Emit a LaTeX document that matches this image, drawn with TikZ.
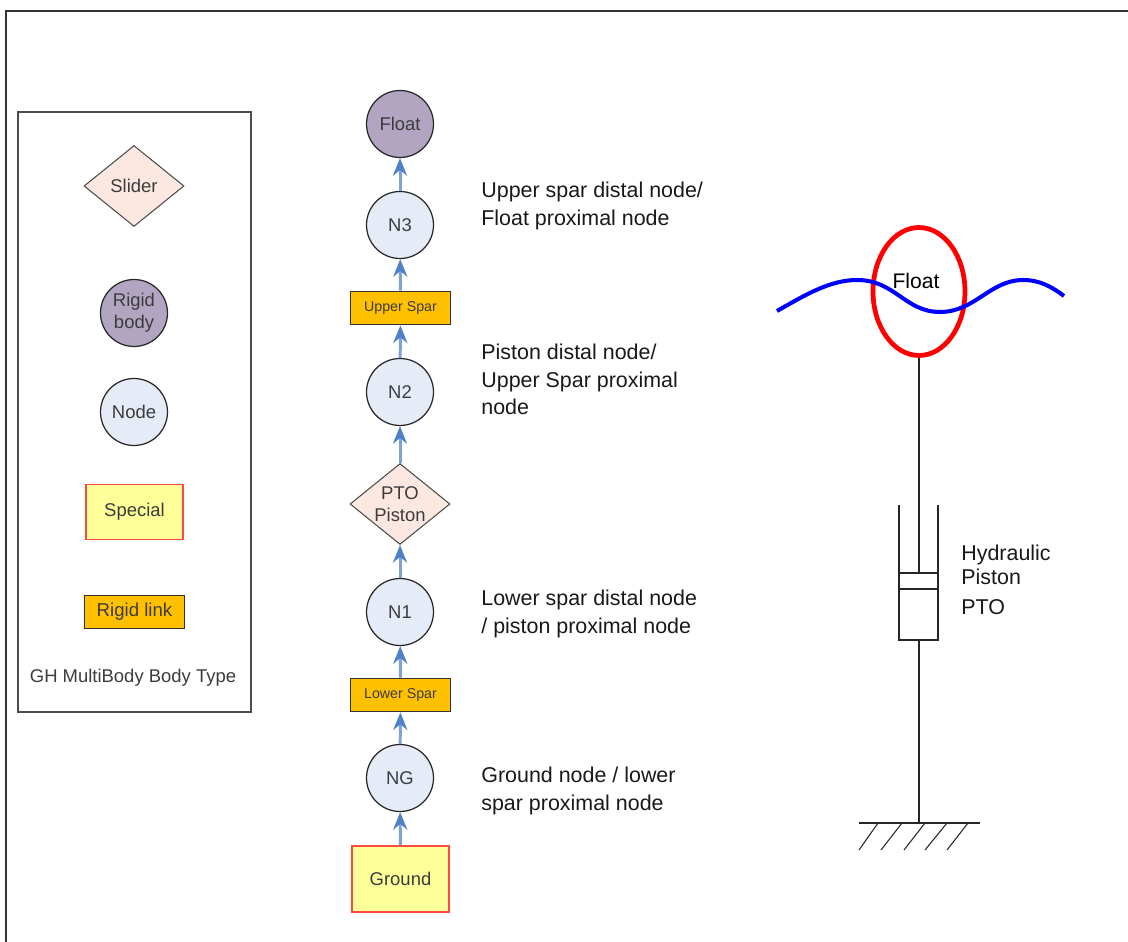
\documentclass[tikz,border=0pt]{standalone}
\usepackage{fontspec}
\setmainfont{Liberation Sans}
\usepackage{tikz}
\usetikzlibrary{arrows.meta, shapes.geometric}
\definecolor{nodeblue}{HTML}{E6ECF7}
\definecolor{bodypurple}{HTML}{B1A5C2}
\definecolor{sliderpink}{HTML}{FCE8E1}
\definecolor{specialyellow}{HTML}{FFFF99}
\definecolor{linkamber}{HTML}{FFC000}
\definecolor{specialred}{HTML}{FF4B3E}
\definecolor{linkblue}{HTML}{7BA3DA}
\definecolor{headblue}{HTML}{4F81C8}
\definecolor{labelgrey}{HTML}{3C3C3C}
\tikzset{
  bodytext/.style={font=\fontsize{10.5}{12.6}\selectfont, text=labelgrey, align=center, inner sep=0pt},
  nodecirc/.style={bodytext, draw=black!85, line width=0.7pt, circle, fill=nodeblue, minimum size=1.34cm},
  rigidcirc/.style={nodecirc, fill=bodypurple},
  sliderbox/.style={bodytext, draw=black!70, line width=0.6pt, diamond, fill=sliderpink, shape aspect=1.22, minimum width=2cm, minimum height=1.62cm},
  specialbox/.style={bodytext, draw=specialred, line width=1.1pt, rectangle, fill=specialyellow},
  sparbox/.style={bodytext, draw=black!80, line width=1pt, rectangle, fill=linkamber, minimum width=2cm, minimum height=0.66cm},
  note/.style={font=\fontsize{12.2}{15.6}\selectfont, text=black!90, align=left, inner sep=0pt, anchor=north west},
  link/.style={-{Stealth[length=10pt,width=8pt,color=headblue]}, line width=1.7pt, draw=linkblue},
  mech/.style={line width=0.6pt, draw=black!85}
}
\begin{document}
\begin{tikzpicture}[x=0.02cm, y=-0.02cm]
  \useasboundingbox (0,0) rectangle (1128,942);
  % frame
  \draw[line width=0.8pt, draw=black!80] (6,942) -- (6,11) -- (1128,11);
  % legend
  \node[draw=black!70, line width=0.7pt, minimum width=4.66cm, minimum height=12cm, inner sep=0pt] (legend) at (134.5,412) {};
  \node[sliderbox] (slider) at (134,186) {Slider};
  \node[rigidcirc] (rigid) at (134,313) {Rigid\\body};
  \node[nodecirc] (plainnode) at (134,412) {Node};
  \node[specialbox, minimum width=1.94cm, minimum height=1.1cm] (special) at (134.5,512) {Special};
  \node[sparbox, font=\fontsize{10.6}{12}\selectfont] (rigidlink) at (134.5,612) {Rigid link};
  \node[bodytext] (legendtitle) at (133,678) {GH MultiBody Body Type};
  % chain
  \node[specialbox, minimum width=1.94cm, minimum height=1.32cm] (ground) at (400.5,879) {Ground};
  \node[nodecirc] (ng) at (400,778) {NG};
  \node[sparbox, font=\fontsize{8.1}{9}\selectfont] (lowerspar) at (400.5,695) {Lower Spar};
  \node[nodecirc] (n1) at (400,612) {N1};
  \node[sliderbox] (piston) at (400,504) {PTO\\Piston};
  \node[nodecirc] (n2) at (400,392) {N2};
  \node[sparbox, font=\fontsize{8.1}{9}\selectfont] (upperspar) at (400.5,308) {Upper Spar};
  \node[nodecirc] (n3) at (400,225) {N3};
  \node[rigidcirc] (float) at (400,124) {Float};
  % links
  \draw[link] (ground) -- (ng);
  \draw[link] (ng) -- (lowerspar);
  \draw[link] (lowerspar) -- (n1);
  \draw[link] (n1) -- (piston);
  \draw[link] (piston) -- (n2);
  \draw[link] (n2) -- (upperspar);
  \draw[link] (upperspar) -- (n3);
  \draw[link] (n3) -- (float);
  % notes
  \node[note] (note3) at (481,182) {Upper spar distal node/\\Float proximal node};
  \node[note] (note2) at (481,344) {Piston distal node/\\Upper Spar proximal\\node};
  \node[note] (note1) at (481,590) {Lower spar distal node\\/ piston proximal node};
  \node[note] (noteg) at (481,767) {Ground node / lower\\spar proximal node};
  % float and wave
  \node[draw=red, line width=2.7pt, ellipse, minimum width=1.84cm, minimum height=2.56cm, inner sep=0pt] (buoy) at (919,291.5) {};
  \node[font=\fontsize{12}{14}\selectfont, inner sep=0pt] (buoylabel) at (916,281) {Float};
  \draw[line width=2.3pt, draw=blue] (777,311) .. controls (805,295) and (830,280) .. (857,280)
    .. controls (895,280) and (905,312) .. (940,312) .. controls (975,312) and (990,280) .. (1023,280)
    .. controls (1040,280) and (1052,287) .. (1064,296);
  % piston
  \coordinate (rodtop) at (919,573);
  \coordinate (rodbase) at (919,640);
  \coordinate (anchor) at (919,823);
  \draw[mech] (buoy.south) -- (rodtop);
  \draw[mech] (899,505) -- (899,640) -- (938,640) -- (938,505);
  \draw[mech] (899,573) -- (938,573);
  \draw[mech] (899,589) -- (938,589);
  \draw[mech] (rodbase) -- (anchor);
  \node[note, font=\fontsize{12.2}{13.6}\selectfont] (pistonlabel) at (961,545) {Hydraulic\\Piston};
  \node[note] (ptolabel) at (961,599) {PTO};
  % ground hatch
  \draw[mech] (859,823) -- (980,823);
  \foreach \xa/\xb in {878/859, 902/881, 925/904, 947/925, 968/947}
    \draw[mech] (\xa,823) -- (\xb,850);
\end{tikzpicture}
\end{document}
